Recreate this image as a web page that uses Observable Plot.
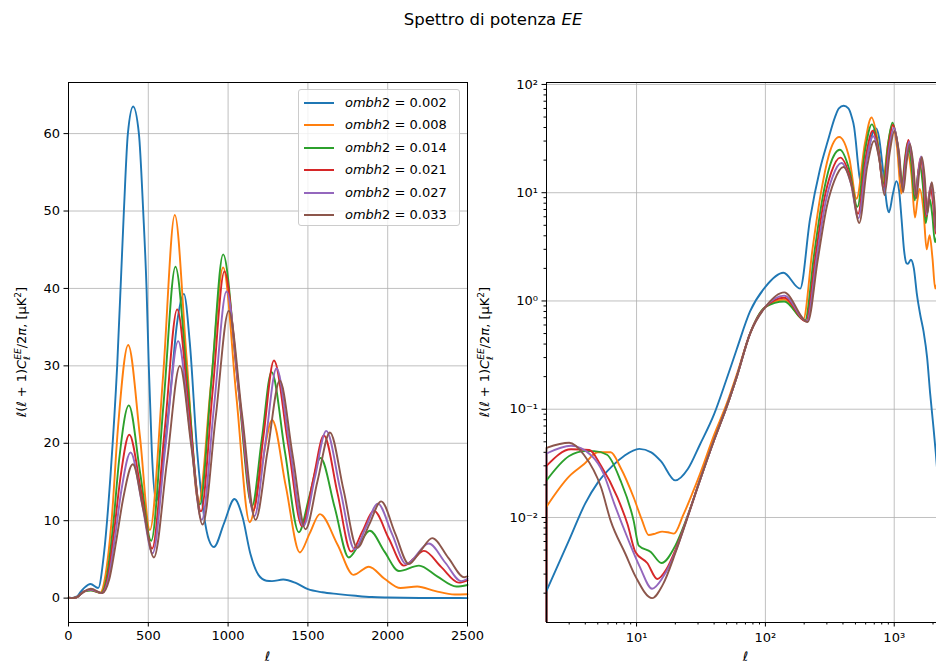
<!DOCTYPE html>
<html>
<head>
<meta charset="utf-8">
<script src="https://cdn.jsdelivr.net/npm/d3@7"></script>
<script src="https://cdn.jsdelivr.net/npm/@observablehq/plot@0.6"></script>
<style>
  body { margin: 0; background: #fff; font-family: "DejaVu Sans", sans-serif; color: #000; }
  #fig { position: relative; width: 936px; height: 666px; overflow: hidden; background: #fff; }
  #fig svg { position: absolute; top: 72px; }
  .title { position: absolute; left: 0; width: 986px; top: 9px; text-align: center; font-size: 16.5px; line-height: 22px; }
  .ylab { position: absolute; width: 320px; height: 20px; line-height: 20px; text-align: center; font-size: 13px; transform: rotate(-90deg); white-space: nowrap; }
  .xlab { position: absolute; width: 40px; text-align: center; font-size: 13px; line-height: 16px; }
  .m { font-style: italic; }
  .ss { display: inline-block; vertical-align: -0.45em; font-size: 0.7em; line-height: 1.0; font-style: italic; text-align: left; }
  .ss span { display: block; }
  .ylab sup { font-size: 0.7em; }
  #legend { position: absolute; left: 298px; top: 89px; width: 162px; height: 137px; box-sizing: border-box;
            border: 1px solid #cccccc; border-radius: 3px; background: rgba(255,255,255,0.8); }
  #legend .row { position: absolute; left: 0; height: 20px; width: 100%; }
  #legend .sw { position: absolute; left: 5px; top: 9px; width: 30px; height: 2px; }
  #legend .lt { position: absolute; left: 46px; top: 1px; font-size: 13px; line-height: 18px; white-space: nowrap; }
</style>
</head>
<body>
<div id="fig">
  <div class="title">Spettro di potenza <span class="m">EE</span></div>
</div>
<script>
// Baryon density values of the six runs and their line colours
const ombh2 = ["0.002", "0.008", "0.014", "0.021", "0.027", "0.033"];
const palette = ["#1f77b4", "#ff7f0e", "#2ca02c", "#d62728", "#9467bd", "#8c564b"];

// EE band powers l(l+1)C_l/2pi [muK^2] as [l, value] pairs for each run
const ee_0002 = [[2,0.0021],[3,0.0062],[4,0.0135],[5,0.021],[6.5,0.030],[8,0.037],[10.5,0.043],[13,0.040],[15.5,0.033],[20,0.022],[25,0.028],[31,0.047],[40,0.09],[50,0.19],[60,0.36],[76,0.8],[100,1.35],[138,1.82],[186,1.3],[222,5.7],[265,16.4],[305,30],[347,50],[372,60],[405,63.5],[441,60],[468,50],[489,40],[503,30],[522,19],[548,12.5],[600,19],[636,26],[680,35.5],[723,39.3],[760,33],[806,19],[850,10.5],[880,7.5],[911,6.6],[975,9.7],[1040,12.8],[1090,10.5],[1140,5.7],[1190,3.0],[1240,2.25],[1275,2.2],[1345,2.4],[1420,2.0],[1500,1.15],[1590,0.75],[1690,0.52],[1800,0.3],[1900,0.14],[2000,0.075],[2100,0.04],[2200,0.02],[2350,0.009],[2500,0.004]];
const ee_0008 = [[2,0.0126],[3,0.024],[3.9,0.031],[5,0.040],[6.3,0.040],[7.5,0.029],[9.5,0.0153],[11,0.0095],[12.4,0.0069],[14,0.0071],[15.8,0.0074],[17.5,0.0073],[19.5,0.0071],[23,0.0105],[27,0.0165],[31,0.025],[40,0.058],[50,0.112],[60,0.21],[76,0.5],[100,0.88],[140,1.03],[197,0.68],[232,3],[270,10],[310,22],[374,32.7],[448,20.8],[510,8.8],[592,28.5],[666,49.5],[740,31],[815,12.3],[892,27.5],[969,42.7],[1052,26],[1135,9.8],[1205,16.4],[1276,23.0],[1362,14.4],[1449,5.9],[1512,8.4],[1575,10.85],[1686,6.9],[1785,3.0],[1882,4.05],[1980,2.5],[2080,1.3],[2185,1.5],[2300,0.9],[2420,0.47],[2500,0.5]];
const ee_0014 = [[2,0.022],[3,0.037],[4,0.041],[4.7,0.041],[5.9,0.038],[7.5,0.022],[9.5,0.0093],[10.4,0.0055],[12.9,0.0048],[15.6,0.0038],[20,0.0055],[24,0.0092],[31,0.022],[40,0.052],[50,0.105],[60,0.2],[76,0.5],[100,0.88],[140,0.99],[203,0.66],[240,2.8],[278,9],[318,18],[378,24.9],[450,16],[518,7.4],[595,25],[670,42.8],[747,27.5],[823,12.1],[896,28.2],[969,44.4],[1060,28],[1150,11.9],[1211,20.5],[1272,29.2],[1357,18.8],[1443,8.5],[1511,13.3],[1579,18.1],[1668,11.7],[1756,5.25],[1822,7],[1888,8.7],[1980,6],[2070,3.5],[2196,4.2],[2310,2.8],[2430,1.5],[2500,1.7]];
const ee_0021 = [[2,0.030],[3.1,0.0427],[4.3,0.042],[5.3,0.030],[7.1,0.0153],[8.5,0.0087],[9.8,0.0048],[12.1,0.0038],[14.5,0.0027],[17,0.0033],[20,0.0050],[24,0.0090],[31,0.022],[40,0.052],[50,0.105],[60,0.2],[76,0.5],[100,0.88],[140,1.07],[207,0.65],[245,2.6],[285,8.5],[325,15.5],[381,21.1],[455,13.8],[524,6.4],[603,21.8],[681,37.3],[755,24.2],[830,11.2],[903,26.7],[977,42.2],[1067,26.7],[1158,11.3],[1222,21],[1287,30.7],[1375,20],[1464,9.3],[1532,15.2],[1600,21.0],[1686,13.5],[1771,6.0],[1842,8.65],[1913,11.3],[2007,7.7],[2101,4.2],[2164,5.1],[2227,6.1],[2336,4],[2446,2.0],[2500,2.3]];
const ee_0027 = [[2,0.039],[3.1,0.046],[4.5,0.037],[5.5,0.026],[6.7,0.0135],[8.5,0.0065],[10.6,0.0035],[13.2,0.0022],[16,0.0028],[20,0.0048],[24,0.0089],[31,0.022],[40,0.052],[50,0.105],[60,0.2],[76,0.5],[100,0.88],[140,1.12],[210,0.65],[250,2.5],[292,8],[332,14],[389,18.8],[460,12.3],[527,5.8],[607,19.5],[687,33.2],[761,21.6],[835,10.1],[912,24.8],[990,39.6],[1077,25],[1165,10.6],[1234,20.1],[1303,29.7],[1387,19.5],[1471,9.3],[1543,15.5],[1615,21.6],[1703,14],[1792,6.3],[1865,9.25],[1938,12.2],[2027,8.3],[2115,4.4],[2258,7.05],[2360,4.6],[2460,2.2],[2500,2.5]];
const ee_0033 = [[2,0.044],[3.0,0.049],[3.9,0.038],[5.3,0.019],[6.3,0.0093],[8.2,0.0046],[9.9,0.0028],[13.2,0.0018],[16,0.0024],[20,0.0047],[24,0.0088],[31,0.022],[40,0.052],[50,0.105],[60,0.2],[76,0.5],[100,0.88],[140,1.2],[213,0.64],[255,2.4],[300,7.5],[342,12.8],[403,17.3],[470,11.3],[535,5.25],[617,17.6],[698,30.0],[769,19.7],[840,9.5],[922,23.3],[1004,37.1],[1088,23.6],[1172,10.1],[1248,19.1],[1324,28.1],[1404,18.5],[1485,8.9],[1561,15.2],[1638,21.4],[1723,14],[1809,6.5],[1884,9.5],[1959,12.5],[2046,8.4],[2133,4.4],[2206,6.1],[2279,7.75],[2380,5.2],[2480,2.7],[2500,2.8]];

// Axis ticks
const linXTicks = [0, 500, 1000, 1500, 2000, 2500];
const linYTicks = [0, 10, 20, 30, 40, 50, 60];
const logXTicks = [10, 100, 1000];
const logYTicks = [1e-2, 1e-1, 1, 10, 100];

const runs = [ee_0002, ee_0008, ee_0014, ee_0021, ee_0027, ee_0033];
const rows = runs.flatMap((pts, i) => pts.map(([ell, cl]) => ({series: ombh2[i], ell, cl})));
const firstRows = runs.map((pts, i) => ({series: ombh2[i], ell: pts[0][0], cl: pts[0][1]}));

// minor ticks of the log axes (2..9 times each decade)
function minorTicks(lo, hi) {
  const out = [];
  for (let e = Math.floor(Math.log10(lo)); e <= Math.ceil(Math.log10(hi)); e++) {
    for (let k = 2; k <= 9; k++) {
      const v = k * Math.pow(10, e);
      if (v > lo * 1.0001 && v < hi) out.push(v);
    }
  }
  return out;
}
const supDigits = {"-": "\u207B", "0": "\u2070", "1": "\u00B9", "2": "\u00B2", "3": "\u00B3", "4": "\u2074", "5": "\u2075", "6": "\u2076", "7": "\u2077", "8": "\u2078", "9": "\u2079"};
const powerLabel = d => "10" + String(Math.round(Math.log10(d))).split("").map(c => supDigits[c]).join("");

const gridStyle = {stroke: "#b0b0b0", strokeOpacity: 1, strokeWidth: 0.8};
const plotStyle = {fontFamily: "DejaVu Sans", fontSize: "13px", color: "black", background: "transparent", overflow: "visible"};
const colorScale = {domain: ombh2, range: palette};
const lineOpts = {x: "ell", y: "cl", z: "series", stroke: "series", strokeWidth: 1.9, curve: "monotone-x"};

// Linear panel
const left = Plot.plot({
  width: 477, height: 594,
  marginLeft: 68, marginRight: 10, marginTop: 10, marginBottom: 44,
  style: plotStyle,
  x: {domain: [0, 2500], label: null},
  y: {domain: [-3.15, 66.6], label: null},
  color: colorScale,
  marks: [
    Plot.gridX(linXTicks, gridStyle),
    Plot.gridY(linYTicks, gridStyle),
    Plot.line(rows, lineOpts),
    Plot.frame({stroke: "black", strokeWidth: 1}),
    Plot.axisX(linXTicks, {anchor: "bottom", tickSize: 4.5, tickPadding: 4, tickFormat: d => String(d), label: null}),
    Plot.axisY(linYTicks, {anchor: "left", tickSize: 4.5, tickPadding: 4, tickFormat: d => String(d), label: null})
  ]
});
left.style.left = "0px";

// Log-log panel
const yLo = Math.pow(10, -2.97), yHi = Math.pow(10, 2.018);
const right = Plot.plot({
  width: 485, height: 594,
  marginLeft: 76, marginRight: 10, marginTop: 10, marginBottom: 44,
  style: plotStyle,
  x: {type: "log", domain: [2, 2500], label: null},
  y: {type: "log", domain: [yLo, yHi], label: null},
  color: colorScale,
  marks: [
    Plot.gridX(logXTicks, gridStyle),
    Plot.gridY(logYTicks, gridStyle),
    Plot.ruleX(firstRows, {x: "ell", y1: yLo, y2: "cl", stroke: "series", strokeWidth: 1.9}),
    Plot.line(rows, {...lineOpts, clip: true}),
    Plot.frame({stroke: "black", strokeWidth: 1}),
    Plot.axisX(logXTicks, {anchor: "bottom", tickSize: 4.5, tickPadding: 6, tickFormat: powerLabel, label: null}),
    Plot.axisX(minorTicks(2, 2500), {anchor: "bottom", tickSize: 2.5, tickFormat: () => "", label: null}),
    Plot.axisY(logYTicks, {anchor: "left", tickSize: 4.5, tickPadding: 4, tickFormat: powerLabel, label: null}),
    Plot.axisY(minorTicks(yLo, yHi), {anchor: "left", tickSize: 2.5, tickFormat: () => "", label: null})
  ]
});
right.style.left = "470px";

const fig = document.getElementById("fig");
fig.appendChild(left);
fig.appendChild(right);

// Axis titles
const yTitle = 'ℓ(ℓ + 1)<span class="m">C</span><span class="ss"><span>EE</span><span>ℓ</span></span>/2<span class="m">π</span>, [μK<sup>2</sup>]';
for (const cx of [18, 481]) {
  const d = document.createElement("div");
  d.className = "ylab";
  d.innerHTML = yTitle;
  d.style.left = (cx - 160) + "px";
  d.style.top = (352 - 10) + "px";
  fig.appendChild(d);
}
for (const [cx, cy] of [[267.5, 657], [745.5, 657]]) {
  const d = document.createElement("div");
  d.className = "xlab";
  d.textContent = "ℓ";
  d.style.left = (cx - 20) + "px";
  d.style.top = (cy - 8) + "px";
  fig.appendChild(d);
}

// Legend
const legend = document.createElement("div");
legend.id = "legend";
ombh2.forEach((v, i) => {
  const row = document.createElement("div");
  row.className = "row";
  row.style.top = (2.7 + 22.5 * i) + "px";
  row.innerHTML = `<span class="sw" style="background:${palette[i]}"></span><span class="lt"><span class="m">ombh</span>2 = ${v}</span>`;
  legend.appendChild(row);
});
fig.appendChild(legend);
</script>
</body>
</html>
